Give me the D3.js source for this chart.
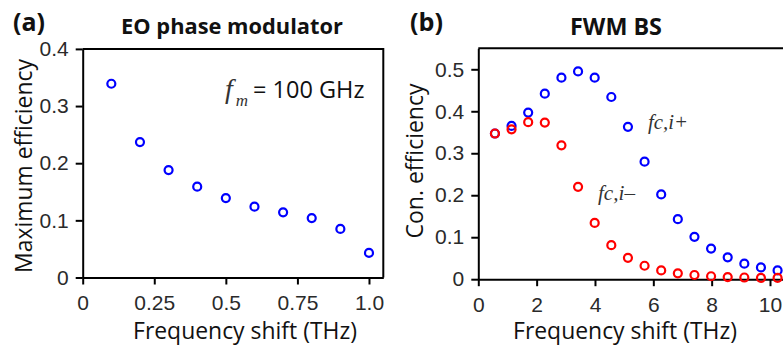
<!DOCTYPE html>
<html>
<head>
<meta charset="utf-8">
<script src="https://cdn.jsdelivr.net/npm/d3@7"></script>
<style>
  body { margin: 0; background: #fff; }
  svg { display: block; }
  .tick text { font-family: "Liberation Sans", Arial, sans-serif; font-size: 21px; fill: #2a2a2a; }
  .domain, .tick line { stroke: #000; stroke-width: 2px; }
  .lbl { font-family: "Open Sans", sans-serif; font-size: 22px; fill: #111; }
  .ttl { font-family: "Open Sans", sans-serif; font-size: 21px; font-weight: bold; fill: #111; }
  .it { font-family: "Liberation Serif", serif; font-style: italic; fill: #333; }
</style>
</head>
<body>
<div id="chart"></div>
<script>
// panel (a): EO phase modulator
var eoShift = [0.1, 0.2, 0.3, 0.4, 0.5, 0.6, 0.7, 0.8, 0.9, 1.0];
var eoEff = [0.339, 0.237, 0.188, 0.159, 0.139, 0.124, 0.114, 0.104, 0.085, 0.043];
var eoXTicks = [0, 0.25, 0.5, 0.75, 1.0];
var eoXLabels = ['0', '0.25', '0.5', '0.75', '1.0'];
var eoYTicks = [0, 0.1, 0.2, 0.3, 0.4];

// panel (b): FWM BS
var fwmShift = [0.57, 1.14, 1.71, 2.28, 2.85, 3.42, 3.99, 4.56, 5.13, 5.70, 6.27, 6.84, 7.41, 7.98, 8.55, 9.12, 9.69, 10.26];
var fwmPlus = [0.347, 0.365, 0.397, 0.442, 0.480, 0.495, 0.480, 0.434, 0.363, 0.280, 0.202, 0.143, 0.101, 0.073, 0.052, 0.037, 0.028, 0.021];
var fwmMinus = [0.347, 0.357, 0.374, 0.373, 0.319, 0.220, 0.134, 0.081, 0.051, 0.032, 0.021, 0.014, 0.010, 0.007, 0.005, 0.004, 0.003, 0.003];
var fwmXTicks = [0, 2, 4, 6, 8, 10];
var fwmYTicks = [0, 0.1, 0.2, 0.3, 0.4, 0.5];

var svg = d3.select('#chart').append('svg')
  .attr('width', 783)
  .attr('height', 347);

// scale a text's font size so it spans roughly the given width
function fit(t, w) {
  var size = parseFloat(window.getComputedStyle(t.node()).fontSize);
  var len = t.node().getComputedTextLength();
  t.style('font-size', (size * w / len).toFixed(2) + 'px');
  return t;
}

function points(g, xs, ys, x, y, color) {
  g.selectAll(null)
    .data(xs.map(function(d, i) { return [d, ys[i]]; }))
    .enter()
    .append('circle')
    .attr('cx', function(d) { return x(d[0]); })
    .attr('cy', function(d) { return y(d[1]); })
    .attr('r', 4)
    .attr('fill', 'none')
    .attr('stroke', color)
    .attr('stroke-width', 2.2);
}

var yFmt = function(d) { return d === 0 ? '0' : d3.format('.1f')(d); };

// ---- panel a ----
var xa = d3.scaleLinear().domain([0, 1.05]).range([82.7, 383.3]);
var ya = d3.scaleLinear().domain([0, 0.4]).range([277.5, 48.9]);
var ga = svg.append('g');

ga.append('path')
  .attr('d', 'M' + xa(0) + ',' + ya(0.4) + 'H' + xa(1.05) + 'V' + ya(0))
  .attr('fill', 'none').attr('stroke', '#000').attr('stroke-width', 2);

ga.append('g')
  .attr('transform', 'translate(0,' + ya(0) + ')')
  .call(d3.axisBottom(xa).tickValues(eoXTicks)
    .tickFormat(function(d, i) { return eoXLabels[i]; })
    .tickSize(7).tickPadding(11).tickSizeOuter(0));
ga.append('g')
  .attr('transform', 'translate(' + xa(0) + ',0)')
  .call(d3.axisLeft(ya).tickValues(eoYTicks).tickFormat(yFmt)
    .tickSize(7).tickPadding(7).tickSizeOuter(0));

points(ga, eoShift, eoEff, xa, ya, '#0000ff');

fit(ga.append('text').attr('class', 'lbl')
  .attr('x', 245).attr('y', 339).attr('text-anchor', 'middle')
  .text('Frequency shift (THz)'), 224);
fit(ga.append('text').attr('class', 'lbl')
  .attr('transform', 'translate(31.5,166) rotate(-90)')
  .attr('text-anchor', 'middle')
  .text('Maximum efficiency'), 214);
fit(ga.append('text').attr('class', 'ttl')
  .attr('x', 232).attr('y', 33.5).attr('text-anchor', 'middle')
  .text('EO phase modulator'), 222);
fit(ga.append('text').attr('class', 'ttl')
  .attr('x', 13).attr('y', 30.5)
  .text('(a)'), 32);

var fm = ga.append('text').attr('x', 225).attr('y', 98);
fm.append('tspan').attr('class', 'it').style('font-size', '28px').text('f');
fm.append('tspan').attr('class', 'it').style('font-size', '17px')
  .attr('dx', 3).attr('dy', 8).text('m');
fm.append('tspan').attr('class', 'lbl').style('font-size', '23.5px')
  .attr('dx', 5).attr('dy', -8).text('= 100 GHz');

// ---- panel b ----
var xb = d3.scaleLinear().domain([0, 11]).range([478.3, 478.3 + 11 * 29.17]);
var yb = d3.scaleLinear().domain([0, 0.55]).range([279.2, 48.3]);
var gb = svg.append('g');

gb.append('path')
  .attr('d', 'M' + xb(0) + ',' + yb(0.55) + 'H' + xb(11))
  .attr('fill', 'none').attr('stroke', '#000').attr('stroke-width', 2);

gb.append('g')
  .attr('transform', 'translate(0,' + yb(0) + ')')
  .call(d3.axisBottom(xb).tickValues(fwmXTicks)
    .tickFormat(d3.format('d'))
    .tickSize(7).tickPadding(11).tickSizeOuter(0));
gb.append('g')
  .attr('transform', 'translate(' + xb(0) + ',0)')
  .call(d3.axisLeft(yb).tickValues(fwmYTicks).tickFormat(yFmt)
    .tickSize(7).tickPadding(7).tickSizeOuter(0));

points(gb, fwmShift, fwmPlus, xb, yb, '#0000ff');
points(gb, fwmShift, fwmMinus, xb, yb, '#ff0000');

fit(gb.append('text').attr('class', 'it').style('font-size', '20px')
  .attr('x', 648).attr('y', 129).text('fc,i+'), 40);
fit(gb.append('text').attr('class', 'it').style('font-size', '20px')
  .attr('x', 598).attr('y', 200).text('fc,i\u2013'), 37);

fit(gb.append('text').attr('class', 'lbl')
  .attr('x', 625).attr('y', 339).attr('text-anchor', 'middle')
  .text('Frequency shift (THz)'), 224);
fit(gb.append('text').attr('class', 'lbl')
  .attr('transform', 'translate(422.5,161) rotate(-90)')
  .attr('text-anchor', 'middle')
  .text('Con. efficiency'), 155);
fit(gb.append('text').attr('class', 'ttl')
  .attr('x', 616).attr('y', 35).attr('text-anchor', 'middle')
  .text('FWM BS'), 92);
fit(gb.append('text').attr('class', 'ttl')
  .attr('x', 410).attr('y', 30.5)
  .text('(b)'), 33);
</script>
</body>
</html>
